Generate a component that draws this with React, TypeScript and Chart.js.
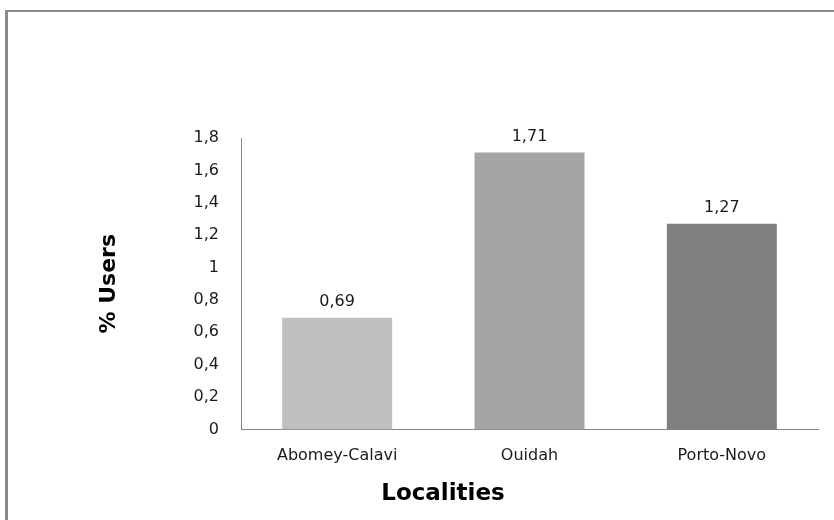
import React, { useEffect, useRef } from "react";
import { Chart, registerables } from "chart.js";

Chart.register(...registerables);

const categories = ["Abomey-Calavi", "Ouidah", "Porto-Novo"];
const values = [0.69, 1.71, 1.27];
const barColors = ["#BFBFBF", "#A5A5A5", "#7F7F7F"];
const yTitle = "% Users";
const xTitle = "Localities";
const yMin = 0;
const yMax = 1.8;
const yStep = 0.2;

const fmt = (v: number) => String(Number(v.toFixed(2))).replace(".", ",");

const valueLabels = {
  id: "valueLabels",
  afterDatasetsDraw(chart: any) {
    const ctx = chart.ctx;
    const meta = chart.getDatasetMeta(0);
    ctx.save();
    ctx.font = "16px 'DejaVu Sans'";
    ctx.fillStyle = "#1a1a1a";
    ctx.textAlign = "center";
    ctx.textBaseline = "bottom";
    meta.data.forEach((el: any, i: number) => {
      ctx.fillText(fmt(values[i]), el.x, el.y - 8);
    });
    ctx.restore();
  },
};

export default function App() {
  const ref = useRef<HTMLCanvasElement | null>(null);
  useEffect(() => {
    if (!ref.current) return;
    const chart = new Chart(ref.current, {
      type: "bar",
      data: {
        labels: categories,
        datasets: [
          {
            data: values,
            backgroundColor: barColors,
            borderWidth: 0,
            barPercentage: 0.572,
            categoryPercentage: 1,
          },
        ],
      },
      options: {
        animation: false,
        responsive: true,
        maintainAspectRatio: false,
        layout: { padding: { top: 138, left: 68, right: 16, bottom: 12 } },
        plugins: {
          legend: { display: false },
          tooltip: { enabled: false },
          title: {
            display: true,
            text: xTitle,
            position: "bottom",
            color: "#000",
            font: { family: "'DejaVu Sans'", size: 23, weight: "bold" },
            padding: { top: 0, bottom: 0 },
          },
        },
        scales: {
          x: {
            grid: { display: false, drawTicks: false },
            border: { display: true, color: "#868686", width: 1 },
            ticks: {
              color: "#1a1a1a",
              padding: 17,
              font: { family: "'DejaVu Sans'", size: 16 },
            },
            afterFit: (s: any) => {
              s.height = 51;
            },
          },
          y: {
            min: yMin,
            max: yMax,
            grid: { display: false, drawTicks: false },
            border: { display: true, color: "#868686", width: 1 },
            ticks: {
              stepSize: yStep,
              color: "#1a1a1a",
              padding: 22,
              font: { family: "'DejaVu Sans'", size: 16 },
              callback: (v: any) => fmt(Number(v)),
            },
            title: {
              display: true,
              text: yTitle,
              color: "#000",
              font: { family: "'DejaVu Sans'", size: 22, weight: "bold" },
              padding: { top: 28, bottom: 0 },
            },
            afterFit: (s: any) => {
              s.width = 173;
            },
          },
        },
      },
      plugins: [valueLabels],
    });
    return () => chart.destroy();
  }, []);

  return (
    <div
      style={{
        position: "fixed",
        left: 0,
        top: 0,
        width: 834,
        height: 520,
        background: "#fff",
        overflow: "hidden",
      }}
    >
      <div
        style={{
          position: "absolute",
          left: 5,
          top: 10,
          width: 860,
          height: 540,
          borderTop: "2px solid #8a8a8a",
          borderLeft: "3px solid #8a8a8a",
        }}
      />
      <div style={{ position: "absolute", left: 0, top: 0, width: 834, height: 520 }}>
        <canvas ref={ref} />
      </div>
    </div>
  );
}
